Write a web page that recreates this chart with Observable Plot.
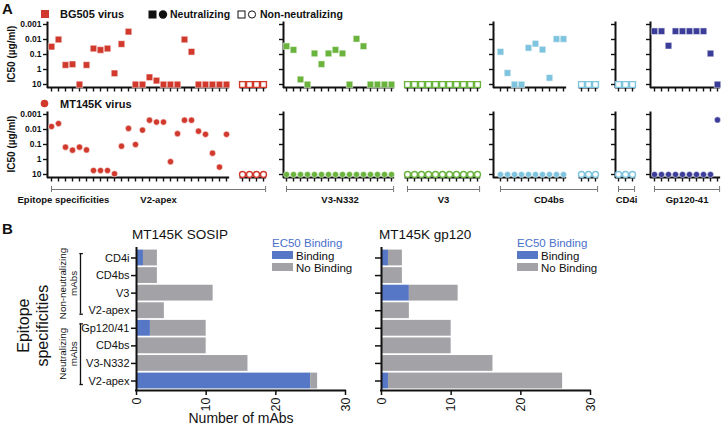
<!DOCTYPE html>
<html><head><meta charset="utf-8">
<script src="https://cdn.jsdelivr.net/npm/d3@7"></script>
<script src="https://cdn.jsdelivr.net/npm/@observablehq/plot@0.6"></script>
<style>
body{margin:0;background:#fff;}
#root{position:relative;width:724px;height:429px;overflow:hidden;font-family:"Liberation Sans",Arial,Helvetica,sans-serif;color:#111;background:#fff;}
.abs{position:absolute;}
.abs svg{display:block;overflow:visible;}
</style></head><body><div id="root"></div>
<script>
// ---------------- DATA (panel A: IC50 µg/ml) ----------------
const yTicksA = [0.001, 0.01, 0.1, 1, 10];
const epitopeLabels = ["V2-apex", "V3-N332", "V3", "CD4bs", "CD4i", "Gp120-41"];
const groupEpitope = ["V2-apex", "V2-apex", "V3-N332", "V3", "CD4bs", "CD4bs", "CD4i", "Gp120-41"];
const groupNeutralizing = [true, false, true, false, true, false, false, true];

const bg505_V2apex_neut = [0.03, 0.01, 0.5, 0.45, 10, 0.5, 0.04, 0.05, 0.04, 1.8, 0.02, 0.003, 10, 10, 3.3, 5.5, 10, 10, 10, 0.01, 0.066, 10, 10, 10, 10, 10];
const bg505_V2apex_non = [10, 10, 10, 10];
const bg505_V3N332_neut = [0.028, 0.049, 4.6, 10, 0.085, 0.44, 0.085, 0.049, 0.085, 10, 0.009, 0.028, 10, 10, 10, 10];
const bg505_V3_non = [10, 10, 10, 10, 10, 10, 10, 10, 10, 10, 10];
const bg505_CD4bs_neut = [0.066, 1.7, 10, 10, 0.036, 0.019, 0.047, 3.6, 0.0093, 0.0093];
const bg505_CD4bs_non = [10, 10, 10];
const bg505_CD4i_non = [10, 10, 10];
const bg505_Gp12041_neut = [0.0028, 0.0028, 0.026, 0.0028, 0.0028, 0.0028, 0.0028, 0.0028, 0.086, 10];

const mt145k_V2apex_neut = [0.0063, 0.004, 0.15, 0.24, 0.15, 0.23, 5.4, 5.4, 5.4, 9, 0.13, 0.0085, 0.1, 0.011, 0.0024, 0.0032, 0.0032, 1.4, 0.019, 0.0024, 0.0024, 0.013, 0.021, 0.38, 3.2, 0.021];
const mt145k_V2apex_non = [10, 10, 10, 10];
const mt145k_V3N332_neut = [10, 10, 10, 10, 10, 10, 10, 10, 10, 10, 10, 10, 10, 10, 10, 10];
const mt145k_V3_non = [10, 10, 10, 10, 10, 10, 10, 10, 10, 10, 10];
const mt145k_CD4bs_neut = [10, 10, 10, 10, 10, 10, 10, 10, 10, 10];
const mt145k_CD4bs_non = [10, 10, 10];
const mt145k_CD4i_non = [10, 10, 10];
const mt145k_Gp12041_neut = [10, 10, 10, 10, 10, 10, 10, 10, 10, 0.0023];

// ---------------- DATA (panel B: number of mAbs) ----------------
const bindingCategories = ["CD4i", "CD4bs", "V3", "V2-apex", "Gp120/41", "CD4bs", "V3-N332", "V2-apex"];
const bindingGroupNames = ["Non-neutralizing", "Non-neutralizing", "Non-neutralizing", "Non-neutralizing", "Neutralizing", "Neutralizing", "Neutralizing", "Neutralizing"];
const sosipBinding = [1, 0, 0, 0, 2, 0, 0, 25];
const sosipNoBinding = [2, 3, 11, 4, 8, 10, 16, 1];
const gp120Binding = [1, 0, 4, 0, 0, 0, 0, 1];
const gp120NoBinding = [2, 3, 7, 4, 10, 10, 16, 25];
const xTicksB = [0, 10, 20, 30];

// ---------------- STYLE ----------------
const RED = "#d1392d", GREEN = "#6ab43e", LBLUE = "#7ec4de", DBLUE = "#3b3d98";
const groupColor = [RED, RED, GREEN, GREEN, LBLUE, LBLUE, LBLUE, DBLUE];
const BAR_BLUE = "#5677c5", BAR_GRAY = "#a3a3a7", LEG_BLUE = "#4a70cb";
const AX = "#111";
const FONT = "'Liberation Sans', Arial, Helvetica, sans-serif";

const root = document.getElementById("root");
function put(svg, x, y, w) {
  const d = document.createElement("div");
  d.className = "abs";
  d.style.left = x + "px"; d.style.top = y + "px"; d.style.width = w + "px";
  d.appendChild(svg); root.appendChild(d);
}
function label(text, x, y, {size = 10, weight = "normal", color = "#111", anchor = "start", rotate = 0} = {}) {
  const d = document.createElement("div");
  d.textContent = text;
  d.style.cssText = `position:absolute;left:${x}px;top:${y}px;font-size:${size}px;font-weight:${weight};color:${color};white-space:nowrap;line-height:0.9;`;
  const tx = anchor === "middle" ? "-50%" : anchor === "end" ? "-100%" : "0";
  d.style.transform = `translate(${tx},-50%)` + (rotate ? ` rotate(${rotate}deg)` : "");
  root.appendChild(d);
}
function swatch(html, x, y) {
  const d = document.createElement("div");
  d.style.cssText = `position:absolute;left:${x}px;top:${y}px;line-height:0;`;
  d.innerHTML = html; root.appendChild(d);
}

// ---------------- PANEL A ----------------
const SLOT = 7, LOG_PX = 15, Y_TOP = 6;
const yAt = px => 10 ** (-3 + (px - Y_TOP) / LOG_PX);
const yBot = yAt(69);

const rows = [
  {top: 18, symbol: "square", r: 3.7, rOpen: 3.3, bracket: false,
   groups: [bg505_V2apex_neut, bg505_V2apex_non, bg505_V3N332_neut, bg505_V3_non, bg505_CD4bs_neut, bg505_CD4bs_non, bg505_CD4i_non, bg505_Gp12041_neut]},
  {top: 108, symbol: "circle", r: 3.1, rOpen: 3.0, bracket: true,
   groups: [mt145k_V2apex_neut, mt145k_V2apex_non, mt145k_V3N332_neut, mt145k_V3_non, mt145k_CD4bs_neut, mt145k_CD4bs_non, mt145k_CD4i_non, mt145k_Gp12041_neut]}
];
const panelLayout = [
  {groups: [0, 1], axis: 47, right: 268, ml: 47, lead: 4, gaps: [0, 16]},
  {groups: [2, 3], axis: 283, right: 484, ml: 8, lead: 3, gaps: [0, 16]},
  {groups: [4, 5], axis: 493, right: 601, ml: 8, lead: 7, gaps: [0, 18]},
  {groups: [6], axis: 615, right: 638, ml: 8, lead: 3, gaps: [0]},
  {groups: [7], axis: 650, right: 722, ml: 8, lead: 4, gaps: [0]}
];

function panelPlot(row, p, first) {
  const width = p.ml + (p.right - p.axis);
  const xmin = -p.lead / SLOT, xmax = (p.right - p.axis - p.lead) / SLOT;
  const height = row.bracket ? 100 : 76;
  let s = 0; const pts = [], segs = [], spans = [];
  p.groups.forEach((g, k) => {
    if (k > 0) s += p.gaps[k] / SLOT;
    const start = s, vals = row.groups[g];
    vals.forEach((v, i) => pts.push({x: start + i, v, open: !groupNeutralizing[g], color: groupColor[g]}));
    const end = start + vals.length - 1;
    segs.push({x1: k === 0 ? xmin : start - 0.35, x2: end + 0.45});
    spans.push({g, start, end});
    s = end;
  });
  const brackets = [];
  spans.forEach(sp => {
    const ep = groupEpitope[sp.g];
    const last = brackets[brackets.length - 1];
    if (last && last.label === ep) last.x2 = sp.end + 0.3;
    else brackets.push({label: ep, x1: sp.start, x2: sp.end + 0.3});
  });
  const marks = [
    Plot.ruleX([xmin], {y1: yAt(Y_TOP - 1.5), y2: yBot, stroke: AX, strokeWidth: 2, strokeLinecap: "square"}),
    Plot.ruleY(segs, {x1: "x1", x2: "x2", y: () => yBot, stroke: AX, strokeWidth: 2}),
    Plot.ruleX(pts, {x: "x", y1: () => yBot, y2: () => yAt(73.5), stroke: AX, strokeWidth: 1.4}),
    first
      ? Plot.axisY(yTicksA, {tickSize: 4, tickPadding: 2, fontWeight: "bold", fontSize: 8.5, strokeWidth: 1.4, stroke: AX, tickFormat: d => String(d), label: null})
      : Plot.ruleY(yTicksA, {x1: () => xmin - 4 / SLOT, x2: () => xmin, y: d => d, stroke: AX, strokeWidth: 1.4}),
    Plot.dot(pts.filter(d => !d.open), {x: "x", y: "v", symbol: row.symbol, r: row.r, fill: "color", stroke: "white", strokeWidth: 0.5}),
    Plot.dot(pts.filter(d => d.open), {x: "x", y: "v", symbol: row.symbol, r: row.rOpen, fill: "white", stroke: "color", strokeWidth: 1.4})
  ];
  if (row.bracket) {
    const yBr = yAt(81), yLab = yAt(91.5);
    marks.push(Plot.ruleY(brackets, {x1: "x1", x2: "x2", y: () => yBr, stroke: "#777", strokeWidth: 1}));
    marks.push(Plot.ruleX(brackets.flatMap(b => [b.x1, b.x2]), {x: d => d, y1: () => yAt(78), y2: () => yAt(84), stroke: "#777", strokeWidth: 1}));
    marks.push(Plot.text(brackets, {x: b => (b.x1 + b.x2) / 2, y: () => yLab, text: "label", fontWeight: "bold", fontSize: 9.5, fill: "#111"}));
    if (first) marks.push(Plot.text(["Epitope specificities"], {x: () => xmin, dx: -30, y: () => yLab, text: d => d, textAnchor: "start", fontWeight: "bold", fontSize: 9.5, fill: "#111"}));
  }
  const svg = Plot.plot({
    width, height, marginLeft: p.ml, marginRight: 0, marginTop: 0, marginBottom: 0,
    style: {fontFamily: FONT, fontSize: "9px", color: "#111", background: "transparent", overflow: "visible"},
    x: {domain: [xmin, xmax], range: [p.ml, width], axis: null},
    y: {type: "log", domain: [0.001, yBot], range: [Y_TOP, 69], axis: null},
    color: {type: "identity"},
    marks
  });
  put(svg, p.axis - p.ml, row.top, width);
}
rows.forEach(row => panelLayout.forEach((p, i) => panelPlot(row, p, i === 0)));

// Panel A headers
label("A", 2, 9, {size: 15, weight: "bold"});
swatch(`<svg width="8" height="8"><rect width="8" height="8" fill="${RED}"/></svg>`, 41, 10);
label("BG505 virus", 60, 14.5, {size: 11, weight: "bold"});
swatch(`<svg width="20" height="9"><rect x="0.5" y="0.5" width="8" height="8" fill="#111"/><circle cx="15" cy="4.5" r="4.2" fill="#111"/></svg>`, 148, 10);
label("Neutralizing", 170, 14.5, {size: 10.5, weight: "bold"});
swatch(`<svg width="20" height="9"><rect x="1" y="1" width="7" height="7" fill="white" stroke="#111" stroke-width="1"/><circle cx="15" cy="4.5" r="3.6" fill="white" stroke="#111" stroke-width="1"/></svg>`, 237, 10);
label("Non-neutralizing", 260, 14.5, {size: 10.5, weight: "bold"});
swatch(`<svg width="9" height="9"><circle cx="4.5" cy="4.5" r="3.8" fill="${RED}"/></svg>`, 40, 99);
label("MT145K virus", 60, 104.5, {size: 11, weight: "bold"});
label("IC50 (\u00b5g/ml)", 11, 54, {size: 10, weight: "bold", anchor: "middle", rotate: -90});
label("IC50 (\u00b5g/ml)", 11, 144, {size: 10, weight: "bold", anchor: "middle", rotate: -90});

// ---------------- PANEL B ----------------
const Y_DOM = [-0.54, 7.54];
function barPlot({binding, noBinding, left, width, ml, mr, labels}) {
  const rects = [];
  bindingCategories.forEach((c, i) => {
    rects.push({i, x1: 0, x2: binding[i], fill: BAR_BLUE});
    rects.push({i, x1: binding[i], x2: binding[i] + noBinding[i], fill: BAR_GRAY});
  });
  const pxPerUnit = (width - ml - mr) / 30;
  const idx = bindingCategories.map((c, i) => i);
  const marks = [
    Plot.rectX(rects.filter(d => d.x2 > d.x1), {x1: "x1", x2: "x2", y1: d => d.i - 0.45, y2: d => d.i + 0.45, fill: "fill"}),
    Plot.ruleX([0], {stroke: AX, strokeWidth: 2, strokeLinecap: "square"}),
    Plot.ruleY([Y_DOM[1]], {stroke: AX, strokeWidth: 2, strokeLinecap: "square"}),
    Plot.axisX(xTicksB, {tickSize: 5, tickPadding: 2, tickRotate: -90, fontSize: 12.5, stroke: AX, strokeWidth: 1.5, label: null})
  ];
  if (labels) {
    marks.push(Plot.axisY(idx, {tickSize: 5, tickPadding: 2, tickFormat: i => bindingCategories[i], fontSize: 11, stroke: AX, strokeWidth: 1.5, label: null}));
    marks.push(Plot.text(["Number of mAbs"], {frameAnchor: "bottom", dy: 32, text: d => d, fontSize: 14, fill: "#111"}));
    const groups = [];
    bindingGroupNames.forEach((g, i) => {
      const last = groups[groups.length - 1];
      if (last && last.name === g) last.end = i; else groups.push({name: g, start: i, end: i});
    });
    const br = groups.map(g => ({y1: g.start - 0.25, y2: g.end + 0.2, mid: (g.start + g.end) / 2 - 0.05, name: g.name}));
    const capLen = 3.5 / pxPerUnit;
    marks.push(Plot.ruleX(br, {x: () => 0, y1: "y1", y2: "y2", dx: -56, stroke: AX, strokeWidth: 1.3}));
    marks.push(Plot.ruleY(br.flatMap(b => [b.y1, b.y2]), {y: d => d, x1: () => 0, x2: () => capLen, dx: -56.6, stroke: AX, strokeWidth: 1.3}));
    marks.push(Plot.text(br, {x: () => 0, y: "mid", text: "name", dx: -74, rotate: -90, fontSize: 9.8, fill: "#111"}));
    marks.push(Plot.text(br, {x: () => 0, y: "mid", text: () => "mAbs", dx: -63, rotate: -90, fontSize: 9.8, fill: "#111"}));
    marks.push(Plot.text(["Epitope"], {x: () => 0, y: () => 3.85, text: d => d, dx: -113, rotate: -90, fontSize: 16, fill: "#111"}));
    marks.push(Plot.text(["specificities"], {x: () => 0, y: () => 3.85, text: d => d, dx: -94, rotate: -90, fontSize: 16, fill: "#111"}));
  } else {
    marks.push(Plot.ruleY(idx, {y: d => d, x1: () => -6 / pxPerUnit, x2: () => 0, stroke: AX, strokeWidth: 1.5}));
  }
  const svg = Plot.plot({
    width, height: 207, marginLeft: ml, marginRight: mr, marginTop: 26, marginBottom: 39,
    style: {fontFamily: FONT, fontSize: "11px", color: "#111", background: "transparent", overflow: "visible"},
    x: {domain: [0, 30], axis: null},
    y: {domain: Y_DOM, reverse: true, axis: null},
    color: {type: "identity"},
    marks
  });
  put(svg, left, 222, width);
}
barPlot({binding: sosipBinding, noBinding: sosipNoBinding, left: 0, width: 360, ml: 136, mr: 15, labels: true});
barPlot({binding: gp120Binding, noBinding: gp120NoBinding, left: 360, width: 364, ml: 21, mr: 134, labels: false});

label("B", 2, 229, {size: 15, weight: "bold"});
label("MT145K SOSIP", 180, 235, {size: 13.5, anchor: "middle"});
label("MT145K gp120", 379, 235, {size: 13.5});
function bLegend(x) {
  label("EC50 Binding", x, 243, {size: 11.5, color: LEG_BLUE});
  swatch(`<svg width="21" height="8"><rect width="21" height="8" fill="${BAR_BLUE}"/></svg>`, x, 251);
  label("Binding", x + 24, 255.5, {size: 11.5});
  swatch(`<svg width="21" height="8"><rect width="21" height="8" fill="${BAR_GRAY}"/></svg>`, x, 263);
  label("No Binding", x + 24, 267.5, {size: 11.5});
}
bLegend(272);
bLegend(517);
</script></body></html>
